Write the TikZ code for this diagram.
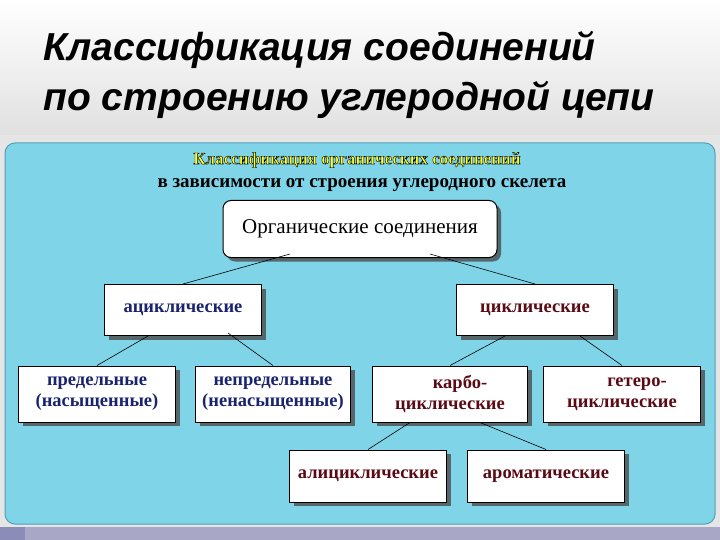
\documentclass[tikz,border=0pt]{standalone}
\usepackage{fontspec}
\setmainfont{Liberation Serif}
\newfontfamily\titlefont{Liberation Sans}
\usetikzlibrary{shadows}
\definecolor{panel}{RGB}{128,212,232}
\definecolor{paneledge}{RGB}{80,160,185}
\definecolor{strip}{RGB}{168,168,198}
\definecolor{stripdark}{RGB}{140,140,185}
\definecolor{bluetxt}{RGB}{25,35,110}
\definecolor{redtxt}{RGB}{90,10,20}
\definecolor{ttl}{RGB}{255,255,40}
\begin{document}
\begin{tikzpicture}[x=1pt,y=-1pt,
  box/.style={draw=black,fill=white,line width=1pt,minimum width=157pt,minimum height=51pt,
    align=center,font=\bfseries\fontsize{18.5}{21}\selectfont,
    drop shadow={shadow xshift=4pt,shadow yshift=-4pt,fill=black!70,opacity=0.8}},
  conn/.style={draw=black,line width=0.6pt}]
\useasboundingbox (0,0) rectangle (720,540);
\shade[top color=white,bottom color=black!12] (0,0) rectangle (720,135);
\fill[black!10] (0,135) rectangle (720,527);
\draw[paneledge,fill=panel,rounded corners=10pt,line width=1pt] (5,143) rectangle (715,524);
\fill[strip] (0,527) rectangle (720,540);
\fill[stripdark] (0,527) rectangle (25,540);
\node[anchor=west,font=\titlefont\bfseries\itshape\fontsize{39}{41}\selectfont] (t1) at (40,50) {Классификация соединений};
\node[anchor=west,font=\titlefont\bfseries\itshape\fontsize{39}{41}\selectfont] (t2) at (40,100) {по строению углеродной цепи};
\node[font=\bfseries\fontsize{17}{19}\selectfont,text=ttl] (h1) at (357,160) {\pgfsetstrokecolor{black}\special{pdf:literal 2 Tr}Классификация органических соединений\special{pdf:literal 0 Tr}};
\node[font=\bfseries\fontsize{19}{21}\selectfont] (h2) at (362,185) {в зависимости от строения углеродного скелета};
\node[box,rounded corners=8pt,minimum width=274pt,minimum height=57pt,font=\fontsize{21}{23}\selectfont] (org) at (360,229) {Органические соединения};
\node[box,text=bluetxt] (acy) at (183,310) {ациклические};
\node[box,text=redtxt] (cyc) at (535,310) {циклические};
\node[box,text=bluetxt,minimum height=56pt,inner sep=2pt] (pre) at (97,394) {предельные\\(насыщенные)};
\node[box,text=bluetxt,minimum width=155pt,minimum height=56pt,inner sep=2pt] (nep) at (273,394) {непредельные\\(ненасыщенные)};
\node[box,text=redtxt,minimum width=155pt,minimum height=56pt] (kar) at (450,394) {\hspace*{20pt}карбо-\\циклические};
\node[box,text=redtxt,minimum height=56pt] (get) at (622,394) {\hspace*{30pt}гетеро-\\циклические};
\node[box,text=redtxt,minimum height=52pt] (ali) at (368,476) {алициклические};
\node[box,text=redtxt,minimum height=52pt] (aro) at (546,476) {ароматические};
\draw[conn] ([xshift=-70pt,yshift=4pt]org.south) -- (acy.north);
\draw[conn] ([xshift=70pt,yshift=4pt]org.south) -- (cyc.north);
\draw[conn] ([xshift=-35pt]acy.south) -- (pre.north);
\draw[conn] ([xshift=45pt,yshift=3pt]acy.south) -- (nep.north);
\draw[conn] ([xshift=-30pt]cyc.south) -- (kar.north);
\draw[conn] ([xshift=45pt]cyc.south) -- (get.north);
\draw[conn] ([xshift=-40pt]kar.south) -- (ali.north);
\draw[conn] ([xshift=30pt]kar.south) -- (aro.north);
\end{tikzpicture}
\end{document}
